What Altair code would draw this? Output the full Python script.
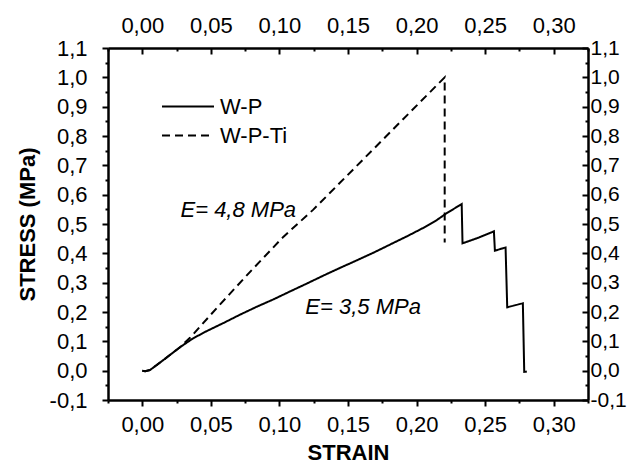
import altair as alt
import pandas as pd

# ---- data ----
series_names = ["W-P", "W-P-Ti"]

wp_strain = [0.0, 0.002, 0.0056, 0.0153, 0.0275, 0.037, 0.047, 0.059, 0.0713, 0.0835,
             0.0956, 0.1077, 0.120, 0.132, 0.144, 0.1564, 0.1685, 0.1807, 0.193, 0.205,
             0.214, 0.222, 0.2329, 0.2335, 0.2455, 0.2564, 0.2571, 0.2649, 0.2661,
             0.2775, 0.2785, 0.2804]
wp_stress = [0.0, -0.002, 0.002, 0.036, 0.080, 0.110, 0.135, 0.162, 0.191, 0.218,
             0.243, 0.270, 0.297, 0.324, 0.350, 0.376, 0.402, 0.430, 0.458, 0.487,
             0.511, 0.537, 0.568, 0.434, 0.454, 0.475, 0.409, 0.420, 0.216,
             0.230, -0.004, -0.003]

ti_strain = [0.0, 0.002, 0.0056, 0.0153, 0.0275, 0.0348, 0.0542, 0.0786, 0.1028,
             0.1247, 0.171, 0.2205, 0.2205]
ti_stress = [0.0, -0.002, 0.002, 0.036, 0.080, 0.112, 0.213, 0.337, 0.456,
             0.549, 0.767, 1.0, 0.437]

x_major = [0.0, 0.05, 0.10, 0.15, 0.20, 0.25, 0.30]
x_minor = [-0.025, 0.025, 0.075, 0.125, 0.175, 0.225, 0.275, 0.325]
y_major = [-0.1, 0.0, 0.1, 0.2, 0.3, 0.4, 0.5, 0.6, 0.7, 0.8, 0.9, 1.0, 1.1]
y_minor = [-0.05, 0.05, 0.15, 0.25, 0.35, 0.45, 0.55, 0.65, 0.75, 0.85, 0.95, 1.05]

note_text = ["E= 4,8 MPa", "E= 3,5 MPa"]
note_x = [0.070, 0.161]
note_y = [0.547, 0.218]

# ---- tables ----
rows = []
for i, (sx, sy) in enumerate(zip(wp_strain, wp_stress)):
    rows.append({"series": series_names[0], "strain": sx, "stress": sy, "idx": i})
for i, (sx, sy) in enumerate(zip(ti_strain, ti_stress)):
    rows.append({"series": series_names[1], "strain": sx, "stress": sy, "idx": i})
df = pd.DataFrame(rows)
notes = pd.DataFrame({"text": note_text, "x": note_x, "y": note_y})

x_ticks = sorted(x_major + x_minor)
y_ticks = sorted(y_major + y_minor)

FONT = "Liberation Sans"
MAJ_X = "abs(datum.value*20 - round(datum.value*20)) < 0.001"
MAJ_Y = "abs(datum.value*10 - round(datum.value*10)) < 0.001"
LBL_X = f"{MAJ_X} ? replace(replace(format(datum.value, '.2f'), '.', ','), '\u2212', '-') : ''"
LBL_Y = f"{MAJ_Y} ? replace(replace(format(datum.value, '.1f'), '.', ','), '\u2212', '-') : ''"

xscale = alt.Scale(domain=[-0.025, 0.325], nice=False, zero=False)
yscale = alt.Scale(domain=[-0.1, 1.1], nice=False, zero=False)

common = dict(
    grid=False, domainColor="black", domainWidth=2.5, tickColor="black", tickWidth=2,
    labelFont=FONT, labelColor="black", labelFlush=False,
    labelOverlap=False, titleFont=FONT, titleFontSize=22, titleFontWeight="bold",
    titleColor="black",
)

x_bottom = alt.Axis(orient="bottom", values=x_ticks, labelExpr=LBL_X, title="STRAIN",
                    tickSize={"condition": {"test": MAJ_X, "value": 6}, "value": 3},
                    labelFontSize=22, labelPadding=8, titlePadding=7, **common)
y_left = alt.Axis(orient="left", values=y_ticks, labelExpr=LBL_Y, title="STRESS (MPa)",
                  tickSize={"condition": {"test": MAJ_Y, "value": 6}, "value": 3},
                  labelFontSize=22, labelPadding=15, titlePadding=10, **common)
x_top = alt.Axis(orient="top", values=x_ticks, labelExpr=LBL_X, title=None,
                 tickSize={"condition": {"test": MAJ_X, "value": -6}, "value": -3},
                 labelFontSize=22, labelPadding=17, **common)
y_right = alt.Axis(orient="right", values=y_ticks, labelExpr=LBL_Y, title=None,
                   tickSize={"condition": {"test": MAJ_Y, "value": -6}, "value": -3},
                   labelFontSize=21, labelPadding=8, **common)

lines = alt.Chart(df).mark_line(color="black", strokeWidth=2).encode(
    x=alt.X("strain:Q", scale=xscale, axis=x_bottom),
    y=alt.Y("stress:Q", scale=yscale, axis=y_left),
    strokeDash=alt.StrokeDash(
        "series:N",
        scale=alt.Scale(domain=series_names, range=[[1, 0], [8, 5]]),
        legend=alt.Legend(orient="none", legendX=53, legendY=44, title=None,
                          symbolType="stroke", symbolSize=2700, symbolStrokeWidth=2,
                          symbolStrokeColor="black", labelFont=FONT, labelFontSize=22,
                          labelColor="black", clipHeight=29, rowPadding=0,
                          labelOffset=5, padding=0),
    ),
    order="idx:Q",
)

text = alt.Chart(notes).mark_text(font=FONT, fontSize=22, fontStyle="italic",
                                  color="black").encode(
    x=alt.X("x:Q", scale=xscale, axis=x_top),
    y=alt.Y("y:Q", scale=yscale, axis=y_right),
    text="text:N",
)

chart = alt.layer(lines, text).resolve_axis(x="independent", y="independent").properties(
    width=480, height=352,
    autosize=alt.AutoSizeParams(type="none"),
    padding={"left": 100, "top": 40, "right": 42, "bottom": 64},
).configure_view(stroke=None).configure(background="white")

chart.save("out.html", embed_options={"renderer": "svg", "actions": False})
